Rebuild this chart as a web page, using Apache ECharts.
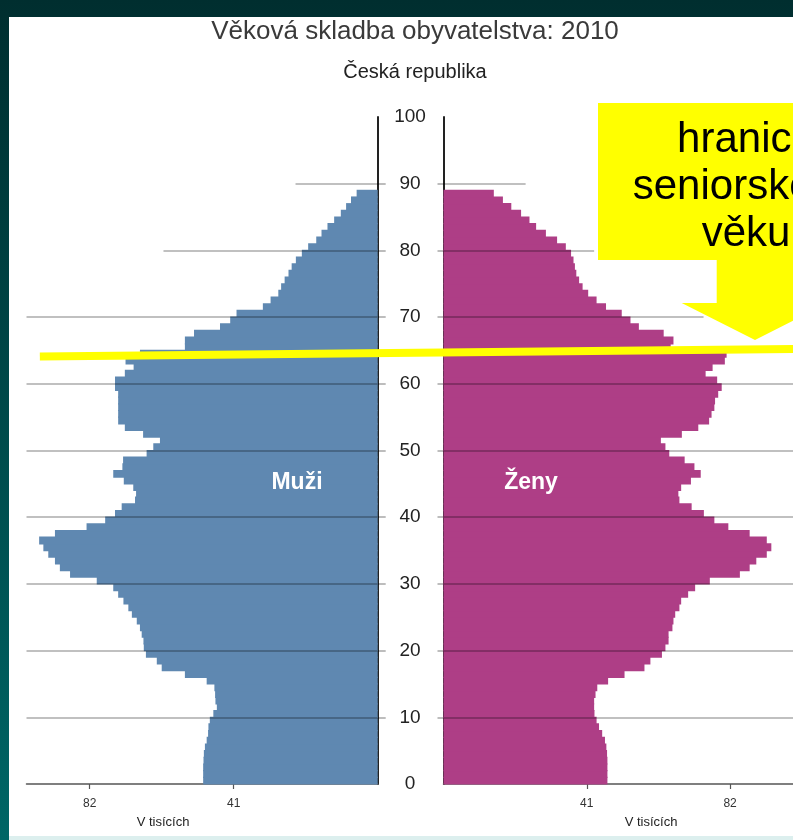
<!DOCTYPE html>
<html>
<head>
<meta charset="utf-8">
<script src="https://cdn.jsdelivr.net/npm/echarts@6/dist/echarts.min.js"></script>
<style>
html,body{margin:0;padding:0;background:#003333;}
#c{width:793px;height:840px;}
</style>
</head>
<body>
<div id="c"></div>
<script>
// ---- data (thousands), index = age 0..88 ----
const males = [
  49.7,49.7,49.7,49.6,49.5,49.2,48.7,48.3,48.2,47.8,
  46.8,45.8,46.2,46.3,46.5,48.7,54.9,61.5,62.9,66.0,
  66.6,66.7,67.2,67.7,68.6,70.0,71.0,72.4,73.9,75.3,
  80.0,87.6,90.5,91.9,93.8,95.2,96.4,91.9,82.9,77.6,
  74.8,72.9,69.1,68.8,69.6,72.3,75.3,72.7,72.5,65.8,
  63.9,62.0,66.8,72.0,73.9,73.9,73.9,73.9,73.9,74.8,
  74.8,72.0,69.5,71.8,67.7,54.9,54.9,52.3,44.9,42.0,
  40.2,32.7,30.5,28.3,27.5,26.5,25.4,24.5,23.3,21.6,
  19.8,17.5,16.0,14.3,12.4,10.5,9.0,7.6,6.0
];
const females = [
  46.9,46.9,46.9,46.9,46.8,46.6,46.2,45.4,44.5,43.8,
  43.2,43.1,43.1,43.5,44.0,47.1,51.8,57.5,59.2,62.5,
  63.5,64.4,64.4,65.5,65.8,66.3,67.5,68.0,70.0,72.0,
  76.2,84.8,87.6,89.5,92.5,93.8,92.5,87.6,81.5,77.5,
  74.5,71.0,67.5,67.2,68.0,70.8,73.6,71.8,69.0,64.6,
  63.5,62.2,68.2,72.9,76.0,76.7,77.5,77.7,78.6,79.6,
  78.3,75.0,77.0,80.5,81.0,65.0,65.8,63.0,55.9,53.5,
  51.0,46.5,43.8,41.4,39.8,38.8,38.0,37.6,37.2,36.5,
  35.0,32.5,29.3,26.5,24.6,22.2,19.4,17.0,14.4
];
const ageTickValues = [10,20,30,40,50,60,70,80,90];
const xTickValues = [41, 82];
const gridAges = [10,20,30,40,50,60,70,80,90];
const maleGridReach = [100,100,100,100,100,100,100,61,23.4];
const femaleGridReach = [100,100,100,100,100,100,74.4,43.1,23.5];
const seniorLine = {fromValue: 96.2, fromAge: 64.1, toValue: -118.5, toAge: 65.2};

const FONT = '"Liberation Sans", Arial, Helvetica, sans-serif';
const MALE_COLOR = '#5f88b1';
const FEMALE_COLOR = '#ae3e86';
const GRID_LINE = {color: 'rgba(0,0,0,0.33)', width: 1.6, type: 'solid'};

const chart = echarts.init(document.getElementById('c'), null, {renderer: 'canvas'});

function barRender(params, api) {
  const age = api.value(1);
  const v = api.value(0);
  const p0 = api.coord([0, age]);
  const p1 = api.coord([v, age + 1]);
  return {
    type: 'rect',
    shape: {
      x: Math.min(p0[0], p1[0]),
      y: Math.min(p0[1], p1[1]) - 0.6,
      width: Math.abs(p1[0] - p0[0]),
      height: Math.abs(p1[1] - p0[1]) + 1.2
    },
    style: {fill: api.visual('color')}
  };
}

function gridMarkLines(reach) {
  return {
    silent: true,
    symbol: 'none',
    label: {show: false},
    lineStyle: GRID_LINE,
    emphasis: {disabled: true},
    animation: false,
    data: gridAges.map((a, i) => [{coord: [reach[i], a]}, {coord: [0, a]}])
  };
}

function xAxisCfg(gridIndex, inverse) {
  return {
    type: 'value', gridIndex, min: 0, max: 100, inverse,
    axisLine: {show: true, lineStyle: {color: '#555', width: 1.5}},
    axisTick: {show: true, length: 5, customValues: xTickValues, lineStyle: {color: '#555', width: 1.2}},
    axisLabel: {show: true, customValues: xTickValues, fontSize: 12, color: '#333', margin: 14, fontFamily: FONT},
    splitLine: {show: false}
  };
}

function yAxisCfg(gridIndex, position, tickLen, showLabels) {
  return {
    type: 'value', gridIndex, min: 0, max: 100, interval: 10, position,
    axisLine: {show: true, onZero: false, lineStyle: {color: '#222', width: 2}},
    axisTick: {show: true, length: tickLen, customValues: ageTickValues, lineStyle: GRID_LINE},
    axisLabel: {show: showLabels, margin: 33.5, align: 'center', fontSize: 19, color: '#222', fontFamily: FONT},
    splitLine: {show: false}
  };
}

const option = {
  animation: false,
  title: [
    {text: 'Věková skladba obyvatelstva: 2010', left: 410, top: 14, textAlign: 'center',
     textStyle: {fontSize: 26, fontWeight: 'normal', color: '#3a3a3a', fontFamily: FONT}},
    {text: 'Česká republika', left: 410, top: 57, textAlign: 'center',
     textStyle: {fontSize: 20, fontWeight: 'normal', color: '#222', fontFamily: FONT}}
  ],
  grid: [
    {left: 26.5, top: 117, width: 351.2, height: 667},
    {left: 443.5, top: 117, width: 351.7, height: 667}
  ],
  xAxis: [xAxisCfg(0, true), xAxisCfg(1, false)],
  yAxis: [yAxisCfg(0, 'right', 8, false), yAxisCfg(1, 'left', 6, true)],
  series: [
    {
      name: 'Muži', type: 'custom', xAxisIndex: 0, yAxisIndex: 0,
      renderItem: barRender, itemStyle: {color: MALE_COLOR},
      encode: {x: 0, y: 1},
      data: males.map((v, age) => [v, age]),
      markLine: gridMarkLines(maleGridReach)
    },
    {
      name: 'Ženy', type: 'custom', xAxisIndex: 1, yAxisIndex: 1,
      renderItem: barRender, itemStyle: {color: FEMALE_COLOR},
      encode: {x: 0, y: 1},
      data: females.map((v, age) => [v, age]),
      markLine: gridMarkLines(femaleGridReach)
    }
  ]
};
chart.setOption(option);

const p0 = chart.convertToPixel({gridIndex: 0}, [seniorLine.fromValue, seniorLine.fromAge]);
const p1 = chart.convertToPixel({gridIndex: 0}, [seniorLine.toValue, seniorLine.toAge]);

chart.setOption({
  graphic: [
    {type: 'rect', z: -100, silent: true, shape: {x: 0, y: 0, width: 793, height: 840},
     style: {fill: new echarts.graphic.LinearGradient(0, 0, 0, 1, [
       {offset: 0, color: '#002e2f'}, {offset: 1, color: '#006666'}])}},
    {type: 'rect', z: -99, silent: true, shape: {x: 9, y: 17, width: 784, height: 819}, style: {fill: '#ffffff'}},
    {type: 'rect', z: -99, silent: true, shape: {x: 9, y: 836, width: 784, height: 4}, style: {fill: '#dcefee'}},
    {type: 'text', z: 50, silent: true, x: 297, y: 483,
     style: {text: 'Muži', fill: '#fff', font: 'bold 23px ' + FONT, align: 'center', verticalAlign: 'middle'}},
    {type: 'text', z: 50, silent: true, x: 531, y: 483,
     style: {text: 'Ženy', fill: '#fff', font: 'bold 23px ' + FONT, align: 'center', verticalAlign: 'middle'}},
    {type: 'text', z: 50, silent: true, x: 163, y: 822,
     style: {text: 'V tisících', fill: '#222', font: '13px ' + FONT, align: 'center', verticalAlign: 'middle'}},
    {type: 'text', z: 50, silent: true, x: 651, y: 822,
     style: {text: 'V tisících', fill: '#222', font: '13px ' + FONT, align: 'center', verticalAlign: 'middle'}},
    {type: 'line', z: 60, silent: true,
     shape: {x1: p0[0], y1: p0[1], x2: p1[0], y2: p1[1]},
     style: {stroke: '#ffff00', lineWidth: 8, lineCap: 'butt'}},
    {type: 'polygon', z: 60, silent: true,
     shape: {points: [[598,103],[912,103],[912,260],[793.3,260],[793.3,303],[828.3,303],[755,340],[681.7,303],[716.7,303],[716.7,260],[598,260]]},
     style: {fill: '#ffff00'}},
    {type: 'text', z: 61, silent: true, x: 746, y: 187,
     style: {text: 'hranice\nseniorského\nvěku', fill: '#000', font: '42px ' + FONT,
             align: 'center', verticalAlign: 'middle', lineHeight: 47}}
  ]
});
</script>
</body>
</html>
